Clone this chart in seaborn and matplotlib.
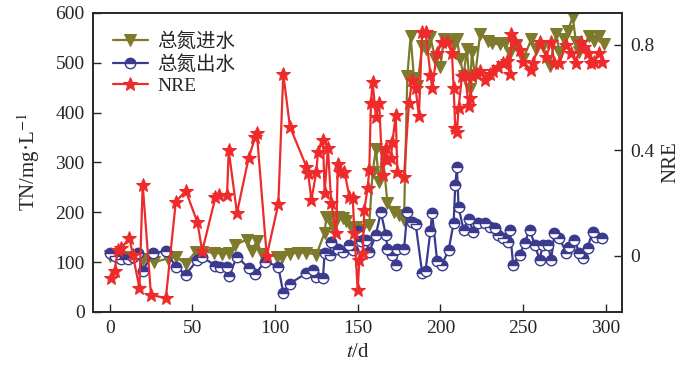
import matplotlib
matplotlib.use("Agg")
import matplotlib.pyplot as plt
import seaborn as sns
import numpy as np

# influent TN (mg/L)
inf_day = [0, 3, 9, 14, 20, 27, 35, 40, 46, 52, 56, 63, 68, 72, 76, 83, 86, 89, 92, 101,
           104, 109, 114, 119, 125, 130, 131, 133, 135, 138, 141, 143, 146, 149, 152, 157, 159, 161, 163, 165,
           168, 172, 175, 178, 180, 182, 184, 186, 189, 191, 194, 197, 200, 202, 205, 208, 210, 212, 214, 216,
           218, 219, 221, 224, 229, 231, 236, 239, 242, 246, 250, 255, 258, 262, 266, 270, 272, 275, 277, 280,
           282, 284, 290, 293, 296, 299]
inf_tn = [112, 110, 110, 110, 107, 100, 107, 110, 97, 121, 121, 119, 117, 119, 135, 145, 123, 142, 117, 111,
          111, 117, 119, 119, 115, 159, 191, 191, 171, 191, 189, 182, 171, 171, 165, 175, 280, 326, 260, 320,
          219, 201, 195, 185, 473, 554, 470, 453, 533, 527, 551, 507, 491, 547, 545, 537, 547, 507, 473, 527,
          447, 521, 473, 557, 543, 539, 537, 539, 520, 535, 507, 547, 527, 533, 493, 557, 521, 547, 563, 592,
          541, 521, 553, 543, 553, 537]

# effluent TN (mg/L)
eff_day = [0, 3, 7, 11, 14, 17, 20, 26, 34, 40, 46, 53, 56, 64, 67, 71, 72, 77, 84, 88,
           94, 102, 105, 109, 119, 123, 125, 129, 130, 133, 134, 138, 141, 145, 147, 150, 152, 155, 157, 161,
           164, 167, 168, 171, 173, 174, 178, 180, 183, 185, 189, 191, 194, 195, 198, 201, 205, 208, 209, 210,
           211, 214, 217, 220, 223, 227, 230, 233, 235, 238, 241, 242, 244, 248, 251, 254, 257, 260, 262, 265,
           267, 269, 272, 276, 278, 281, 284, 286, 289, 292, 294, 298]
eff_tn = [118, 112, 107, 107, 110, 118, 83, 118, 122, 91, 75, 104, 110, 93, 91, 91, 73, 110, 89, 76,
          101, 91, 38, 57, 78, 85, 70, 69, 118, 115, 140, 127, 120, 134, 125, 163, 143, 145, 120, 155,
          200, 155, 127, 115, 95, 127, 126, 200, 180, 177, 78, 82, 163, 198, 103, 95, 125, 178, 255, 290,
          210, 165, 187, 161, 179, 179, 171, 169, 155, 149, 141, 165, 95, 115, 139, 165, 135, 105, 135, 135,
          105, 159, 149, 119, 131, 145, 119, 109, 129, 161, 151, 149]

# nitrogen removal efficiency
nre_day = [1, 3, 5, 7, 12, 14, 18, 20, 25, 34, 40, 46, 53, 56, 64, 66, 71, 72, 77, 84,
           88, 89, 95, 102, 105, 109, 119, 120, 122, 125, 126, 129, 130, 132, 134, 137, 138, 139, 142, 145,
           147, 148, 150, 151, 153, 154, 156, 157, 158, 159, 161, 163, 165, 167, 168, 170, 171, 173, 174, 178,
           181, 183, 185, 187, 189, 191, 194, 195, 198, 201, 204, 207, 208, 209, 210, 211, 213, 215, 217, 218,
           219, 222, 224, 227, 230, 232, 235, 238, 240, 242, 243, 245, 248, 250, 255, 256, 260, 264, 267, 269,
           272, 276, 279, 282, 285, 287, 289, 291, 293, 296, 298]
nre = [-0.083, -0.056, 0.023, 0.03, 0.068, 0.004, -0.12, 0.27, -0.148, -0.159, 0.205, 0.247, 0.129, 0.019, 0.223, 0.23, 0.23, 0.40, 0.163, 0.37,
       0.45, 0.467, 0.0, 0.197, 0.69, 0.49, 0.338, 0.315, 0.212, 0.32, 0.394, 0.44, 0.24, 0.41, 0.20, 0.087, 0.35, 0.32, 0.32, 0.224,
       0.22, 0.087, -0.13, -0.015, 0.011, 0.175, 0.258, 0.326, 0.58, 0.66, 0.527, 0.58, 0.307, 0.41, 0.364, 0.37, 0.43, 0.535, 0.32, 0.30,
       0.58, 0.667, 0.636, 0.53, 0.85, 0.85, 0.686, 0.637, 0.77, 0.81, 0.81, 0.77, 0.637, 0.485, 0.47, 0.56, 0.68, 0.686, 0.57, 0.60,
       0.68, 0.69, 0.70, 0.667, 0.69, 0.70, 0.717, 0.73, 0.74, 0.69, 0.84, 0.81, 0.78, 0.735, 0.705, 0.73, 0.81, 0.755, 0.81, 0.73,
       0.73, 0.80, 0.77, 0.73, 0.81, 0.79, 0.77, 0.73, 0.735, 0.77, 0.735]

olive = "#7d7a2c"
navy = "#3a3a8e"
red = "#ee2a2a"

sns.set_style("ticks")
plt.rcParams['font.family'] = ['Liberation Serif', 'Noto Sans CJK SC']
plt.rcParams['mathtext.fontset'] = 'stix'
plt.rcParams['font.size'] = 14

fig = plt.figure(figsize=(7, 3.67), dpi=100)
ax = fig.add_axes([0.133, 0.15, 0.756, 0.815])
ax2 = ax.twinx()

sns.lineplot(x=inf_day, y=inf_tn, ax=ax, color=olive, marker='v', markersize=8.5,
             markeredgecolor=olive, markerfacecolor=olive, linewidth=1.6, label='总氮进水')
sns.lineplot(x=eff_day, y=eff_tn, ax=ax, color=navy, marker='o', markersize=7.5,
             markeredgecolor=navy, markerfacecolor=navy, fillstyle='top',
             markerfacecoloralt='white', markeredgewidth=1.0, linewidth=1.6, label='总氮出水')
sns.lineplot(x=nre_day, y=nre, ax=ax2, color=red, marker='*', markersize=10,
             markeredgecolor=red, markerfacecolor=red, linewidth=1.6, label='NRE')

ax.set_xlim(-10, 310)
ax.set_ylim(0, 600)
ax.set_xticks(range(0, 301, 50))
ax.set_yticks(range(0, 601, 100))
ax2.set_ylim(-0.212, 0.921)
ax2.set_yticks([0, 0.4, 0.8])
ax2.set_yticklabels(['0', '0.4', '0.8'])

ax.set_xlabel('$t$/d', fontsize=15)
ax.set_ylabel('TN/mg·L$^{-1}$', fontsize=15, labelpad=10)
ax2.set_ylabel('NRE', fontsize=15, labelpad=5)

for a in (ax, ax2):
    a.tick_params(direction='in', length=6, width=1, labelsize=14, pad=6)
    for s in a.spines.values():
        s.set_linewidth(1.2)

h1, l1 = ax.get_legend_handles_labels()
h2, l2 = ax2.get_legend_handles_labels()
if ax.get_legend() is not None:
    ax.get_legend().remove()
ax2.legend(h1 + h2, l1 + l2, loc='upper left', bbox_to_anchor=(0.0, 1.0), frameon=False,
           fontsize=14, handlelength=1.8, handletextpad=0.5, labelspacing=0.2, borderaxespad=0.6)

fig.savefig('out.png', dpi=100)
